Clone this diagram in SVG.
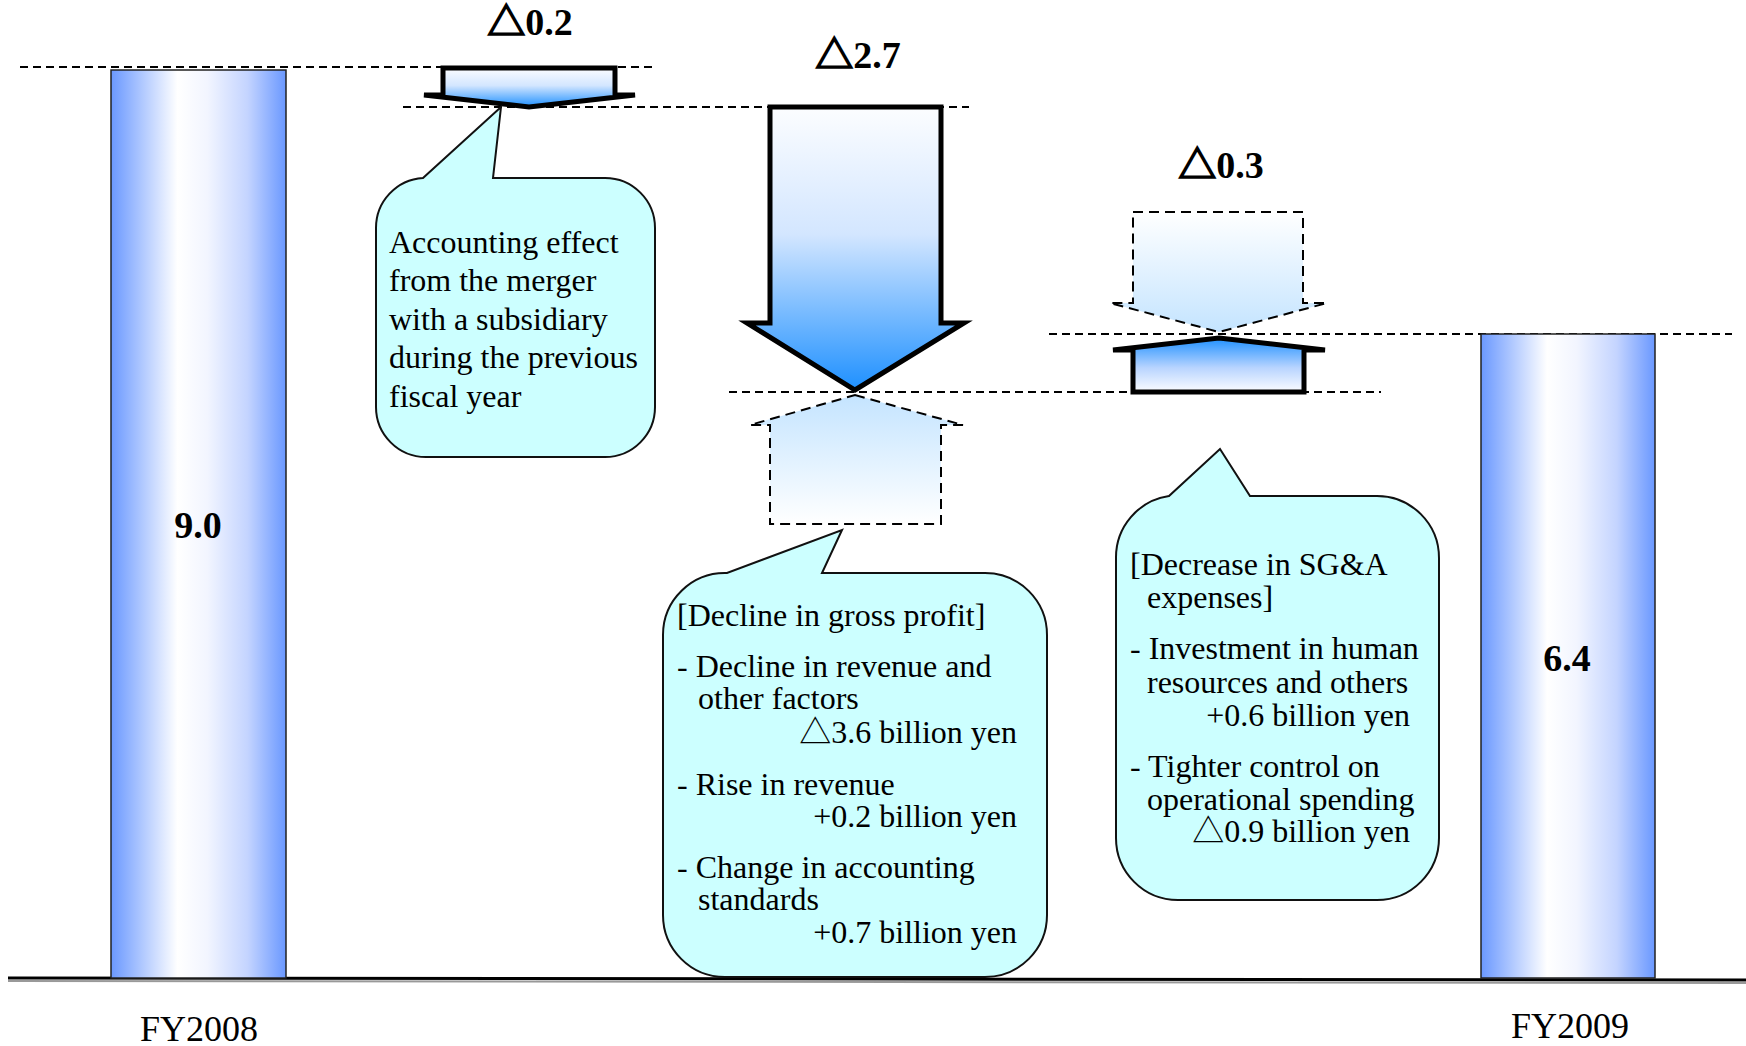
<svg xmlns="http://www.w3.org/2000/svg" width="1746" height="1046" viewBox="0 0 1746 1046">
<defs>
<linearGradient id="barGrad" x1="0" y1="0" x2="1" y2="0">
<stop offset="0" stop-color="#6a98ff"/>
<stop offset="0.38" stop-color="#ffffff"/>
<stop offset="0.55" stop-color="#f2f5ff"/>
<stop offset="0.78" stop-color="#c4d4ff"/>
<stop offset="1" stop-color="#6a98ff"/>
</linearGradient>
<linearGradient id="downGrad" x1="0" y1="0" x2="0" y2="1">
<stop offset="0" stop-color="#fcfdff"/>
<stop offset="0.45" stop-color="#d3e6ff"/>
<stop offset="1" stop-color="#1e90ff"/>
</linearGradient>
<linearGradient id="upGrad" x1="0" y1="0" x2="0" y2="1">
<stop offset="0" stop-color="#1e90ff"/>
<stop offset="0.55" stop-color="#b8d4ff"/>
<stop offset="1" stop-color="#fcfdff"/>
</linearGradient>
<linearGradient id="ghostUp" x1="0" y1="0" x2="0" y2="1">
<stop offset="0" stop-color="#c4e4ff"/>
<stop offset="1" stop-color="#ffffff"/>
</linearGradient>
<linearGradient id="ghostDown" x1="0" y1="0" x2="0" y2="1">
<stop offset="0" stop-color="#ffffff"/>
<stop offset="1" stop-color="#c4e4ff"/>
</linearGradient>
<style>
.bar{fill:url(#barGrad);stroke:#222;stroke-width:1.5}
.solid{stroke:#000;stroke-width:5;stroke-linejoin:miter}
.ghost{stroke:#000;stroke-width:2;stroke-dasharray:10 6}
.guide{stroke:#000;stroke-width:2;stroke-dasharray:8 5;fill:none}
.callout{fill:#ccffff;stroke:#111;stroke-width:2}
.t{font-family:"Liberation Serif","Noto Sans CJK JP",serif;font-size:32px;fill:#000}
.fy{font-family:"Liberation Serif",serif;font-size:36px;fill:#000;text-anchor:middle}
.b{font-family:"Liberation Serif","Noto Sans CJK JP",serif;font-size:38px;font-weight:bold;fill:#000;text-anchor:middle}
.tri{stroke:#000;stroke-width:1.6}
.r{text-anchor:end}
</style>
</defs>
<rect width="1746" height="1046" fill="#ffffff"/>

<g id="connectors">
<line class="guide" x1="20" y1="67" x2="657" y2="67"/>
<line class="guide" x1="403" y1="107" x2="969" y2="107"/>
<line class="guide" x1="729" y1="392" x2="1381" y2="392"/>
<line class="guide" x1="1049" y1="334" x2="1732" y2="334"/>
</g>

<g id="axis">
<line x1="8" y1="981" x2="1746" y2="983" stroke="#999" stroke-width="2"/>
<line x1="8" y1="978" x2="1746" y2="980" stroke="#000" stroke-width="3"/>
</g>

<g id="bar-fy2008">
<rect class="bar" x="111" y="70" width="175" height="908"/>
<text class="b" x="198" y="538">9.0</text>
<text class="fy" x="199" y="1041">FY2008</text>
</g>

<g id="bar-fy2009">
<rect class="bar" x="1481" y="334" width="174" height="644"/>
<text class="b" x="1567" y="671">6.4</text>
<text class="fy" x="1570" y="1038">FY2009</text>
</g>

<g id="arrow-merger">
<path class="solid" fill="url(#downGrad)" d="M443,68 L615,68 L615,95 L635,95 L529,107 L424,95 L443,95 Z"/>
<text class="b" x="530" y="35"><tspan class="tri">△</tspan>0.2</text>
</g>

<g id="arrow-gross">
<path class="solid" fill="url(#downGrad)" d="M770,107 L941,107 L941,323 L964,323 L855,390 L747,323 L770,323 Z"/>
<text class="b" x="858" y="68"><tspan class="tri">△</tspan>2.7</text>
</g>

<g id="ghost-gross">
<path class="ghost" fill="url(#ghostUp)" d="M855,395 L963,425 L941,425 L941,524 L770,524 L770,425 L750,425 Z"/>
</g>

<g id="ghost-sga">
<path class="ghost" fill="url(#ghostDown)" d="M1133,212 L1303,212 L1303,303 L1327,303 L1219,332 L1110,303 L1133,303 Z"/>
<text class="b" x="1221" y="178"><tspan class="tri">△</tspan>0.3</text>
</g>

<g id="arrow-sga">
<path class="solid" fill="url(#upGrad)" d="M1219,338 L1325,350 L1304,350 L1304,392 L1133,392 L1133,350 L1113,350 Z"/>
</g>

<g id="callout-merger">
<path class="callout" d="M376,228 A50,50 0 0 1 423,178 L501,107 L493,178 L605,178 A50,50 0 0 1 655,228 L655,407 A50,50 0 0 1 605,457 L426,457 A50,50 0 0 1 376,407 Z"/>
<text class="t" x="389" y="253">Accounting effect</text>
<text class="t" x="389" y="291">from the merger</text>
<text class="t" x="389" y="330">with a subsidiary</text>
<text class="t" x="389" y="368">during the previous</text>
<text class="t" x="389" y="407">fiscal year</text>
</g>

<g id="callout-gross">
<path class="callout" d="M663,635 A62,62 0 0 1 727,573 L842,530 L822,573 L985,573 A62,62 0 0 1 1047,635 L1047,915 A62,62 0 0 1 985,977 L725,977 A62,62 0 0 1 663,915 Z"/>
<text class="t" x="677" y="626">[Decline in gross profit]</text>
<text class="t" x="677" y="677">- Decline in revenue and</text>
<text class="t" x="698" y="709">other factors</text>
<text class="t r" x="1017" y="743">△3.6 billion yen</text>
<text class="t" x="677" y="795">- Rise in revenue</text>
<text class="t r" x="1017" y="827">+0.2 billion yen</text>
<text class="t" x="677" y="878">- Change in accounting</text>
<text class="t" x="698" y="910">standards</text>
<text class="t r" x="1017" y="943">+0.7 billion yen</text>
</g>

<g id="callout-sga">
<path class="callout" d="M1116,558 A62,62 0 0 1 1169,496 L1220,449 L1250,496 L1377,496 A62,62 0 0 1 1439,558 L1439,838 A62,62 0 0 1 1377,900 L1178,900 A62,62 0 0 1 1116,838 Z"/>
<text class="t" x="1130" y="575">[Decrease in SG&amp;A</text>
<text class="t" x="1147" y="608">expenses]</text>
<text class="t" x="1130" y="659">- Investment in human</text>
<text class="t" x="1147" y="693">resources and others</text>
<text class="t r" x="1410" y="726">+0.6 billion yen</text>
<text class="t" x="1130" y="777">- Tighter control on</text>
<text class="t" x="1147" y="810">operational spending</text>
<text class="t r" x="1410" y="842">△0.9 billion yen</text>
</g>
</svg>
